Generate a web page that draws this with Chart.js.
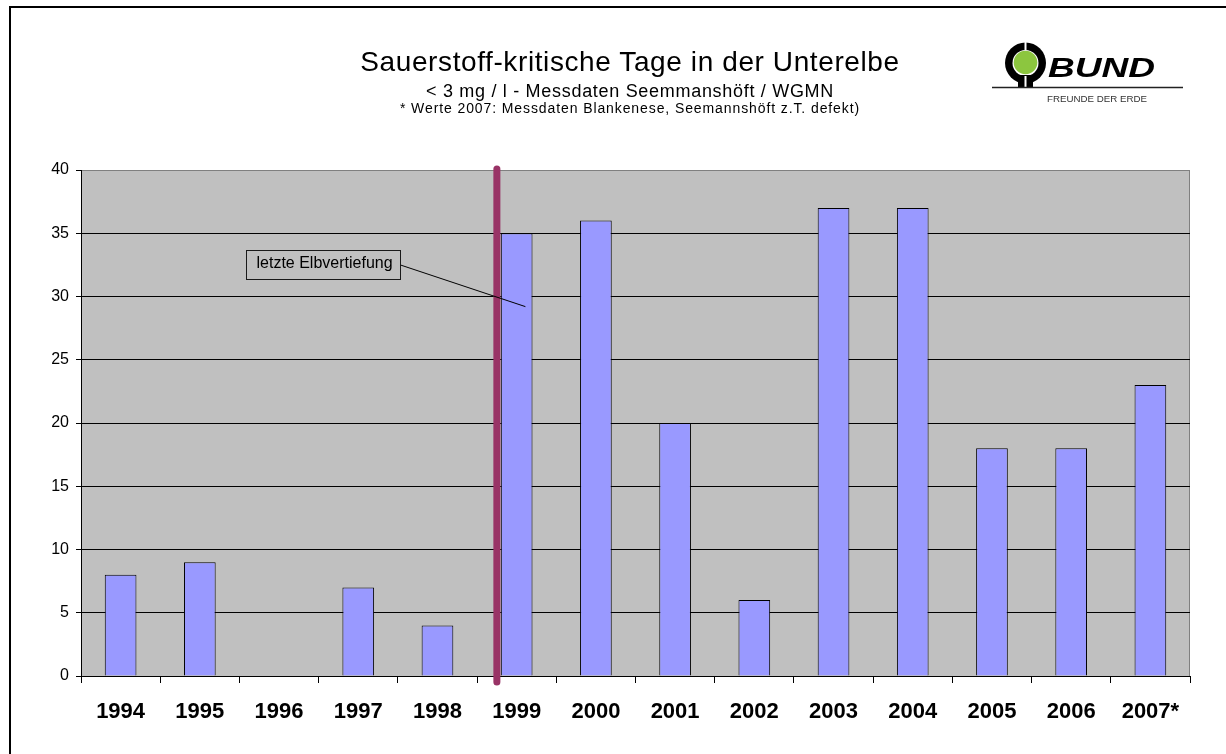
<!DOCTYPE html>
<html>
<head>
<meta charset="utf-8">
<title>Sauerstoff-kritische Tage in der Unterelbe</title>
<script src="https://cdn.jsdelivr.net/npm/chart.js@4"></script>
<style>
  html, body { margin: 0; padding: 0; background: #fff; overflow: hidden; }
  body { width: 1226px; height: 754px; position: relative; font-family: Arial, "Liberation Sans", sans-serif; }
  #rahmen { position: absolute; left: 9px; top: 6px; width: 1240px; height: 770px; border: 2px solid #000; box-sizing: border-box; }
  #graf { position: absolute; left: 0; top: 0; }
  .naslov { position: absolute; left: 280px; width: 700px; text-align: center; color: #000; white-space: nowrap; }
  #logo { position: absolute; left: 0; top: 0; }
</style>
</head>
<body>
<div id="rahmen"></div>
<canvas id="graf" width="1226" height="754"></canvas>
<div class="naslov" style="top:48px;font-size:28px;line-height:28px;letter-spacing:0.6px;">Sauerstoff-kritische Tage in der Unterelbe</div>
<div class="naslov" style="top:82px;font-size:18px;line-height:18px;letter-spacing:0.7px;">&lt; 3 mg / l - Messdaten Seemmanshöft / WGMN</div>
<div class="naslov" style="top:101px;font-size:14px;line-height:14px;letter-spacing:0.9px;">* Werte 2007: Messdaten Blankenese, Seemannshöft z.T. defekt)</div>
<svg id="logo" width="1226" height="130">
  <circle cx="1025.5" cy="63" r="20.5" fill="#000"/>
  <circle cx="1025.5" cy="63" r="13" fill="#fff"/>
  <circle cx="1025.5" cy="62.5" r="11.8" fill="#8cc63f"/>
  <rect x="1024.5" y="41" width="2" height="9" fill="#fff"/>
  <rect x="1018" y="75" width="15" height="12" fill="#000"/>
  <rect x="1024.5" y="76" width="2" height="11" fill="#fff"/>
  <text x="1048" y="77" font-family="Arial, 'Liberation Sans'" font-weight="bold" font-style="italic" font-size="28" textLength="107" lengthAdjust="spacingAndGlyphs">BUND</text>
  <line x1="992" y1="87.5" x2="1183" y2="87.5" stroke="#222" stroke-width="1.5"/>
  <text x="1047" y="102" font-family="Arial, 'Liberation Sans'" font-size="9" fill="#333" textLength="100" lengthAdjust="spacingAndGlyphs">FREUNDE DER ERDE</text>
</svg>
<script>
// podatki
const leta = ['1994', '1995', '1996', '1997', '1998', '1999', '2000', '2001', '2002', '2003', '2004', '2005', '2006', '2007*'];
const kriticniDnevi = [8, 9, 0, 7, 4, 35, 36, 20, 6, 37, 37, 18, 18, 23];
const yMin = 0;
const yMax = 40;
const yKorak = 5;

// navpična črta (zadnja poglobitev) in opomba
const crtaPoglobitve = 4.75;
const opombaBesedilo = 'letzte Elbvertiefung';
const opombaLevo = 1.58;
const opombaDesno = 3.53;
const opombaZgoraj = 33.7;
const opombaSpodaj = 31.4;
const opombaCiljX = 5.11;
const opombaCiljY = 29.2;

const pisava = 'Arial, "Liberation Sans", sans-serif';

// ozadje risalne ploskve
const ozadje = {
  id: 'ozadje',
  beforeDraw(chart) {
    const c = chart.ctx;
    const a = chart.chartArea;
    c.save();
    c.fillStyle = '#c0c0c0';
    c.fillRect(a.left, a.top, a.right - a.left, a.bottom - a.top);
    c.strokeStyle = '#808080';
    c.lineWidth = 1;
    c.beginPath();
    c.moveTo(a.right - 0.5, a.top);
    c.lineTo(a.right - 0.5, a.bottom);
    c.stroke();
    c.restore();
  }
};

// črta in opomba
const oznake = {
  id: 'oznake',
  afterDatasetsDraw(chart) {
    const c = chart.ctx;
    const x = chart.scales.x;
    const y = chart.scales.y;
    c.save();

    const xc = x.getPixelForValue(crtaPoglobitve);
    c.strokeStyle = '#993366';
    c.lineWidth = 7;
    c.lineCap = 'round';
    c.beginPath();
    c.moveTo(xc, y.getPixelForValue(yMax) - 1);
    c.lineTo(xc, y.getPixelForValue(yMin) + 6);
    c.stroke();

    const l = Math.round(x.getPixelForValue(opombaLevo)) + 0.5;
    const d = Math.round(x.getPixelForValue(opombaDesno)) + 0.5;
    const t = Math.round(y.getPixelForValue(opombaZgoraj)) + 0.5;
    const b = Math.round(y.getPixelForValue(opombaSpodaj)) + 0.5;

    c.lineCap = 'butt';
    c.strokeStyle = '#000';
    c.lineWidth = 1;
    c.beginPath();
    c.moveTo(d, (t + b) / 2);
    c.lineTo(x.getPixelForValue(opombaCiljX), y.getPixelForValue(opombaCiljY));
    c.stroke();

    c.strokeStyle = '#1a1a1a';
    c.strokeRect(l, t, d - l, b - t);

    c.fillStyle = '#000';
    c.font = '16px ' + pisava;
    c.textBaseline = 'middle';
    c.textAlign = 'left';
    c.fillText(opombaBesedilo, l + 10, (t + b) / 2 - 1);
    c.restore();
  }
};

const ctx = document.getElementById('graf').getContext('2d');

const graf = new Chart(ctx, {
  type: 'bar',
  data: {
    labels: leta,
    datasets: [{
      label: 'Tage',
      data: kriticniDnevi,
      backgroundColor: '#9999ff',
      borderColor: '#000',
      borderWidth: 1,
      borderSkipped: 'bottom',
      barPercentage: 0.4,
      categoryPercentage: 1
    }]
  },
  options: {
    responsive: false,
    animation: false,
    devicePixelRatio: 1,
    layout: {
      padding: { top: 170, right: 36, bottom: 0, left: 0 }
    },
    plugins: {
      legend: { display: false },
      title: { display: false },
      tooltip: { enabled: false }
    },
    scales: {
      x: {
        offset: true,
        grid: {
          offset: true,
          drawOnChartArea: false,
          color: '#000',
          tickColor: '#000',
          tickLength: 7
        },
        border: { color: '#000', width: 1 },
        ticks: {
          color: '#000',
          font: { family: pisava, size: 22, weight: 'bold' },
          padding: 16,
          maxRotation: 0,
          autoSkip: false
        },
        afterFit(s) { s.height = 78; }
      },
      y: {
        min: yMin,
        max: yMax,
        grid: {
          color: (c) => (c.tick && c.tick.value === yMax ? '#808080' : '#000'),
          tickColor: '#000',
          tickLength: 5
        },
        border: { color: '#000', width: 1 },
        ticks: {
          stepSize: yKorak,
          color: '#000',
          font: { family: pisava, size: 16 },
          padding: 7
        },
        afterFit(s) { s.width = 81; }
      }
    }
  },
  plugins: [ozadje, oznake]
});
</script>
</body>
</html>
